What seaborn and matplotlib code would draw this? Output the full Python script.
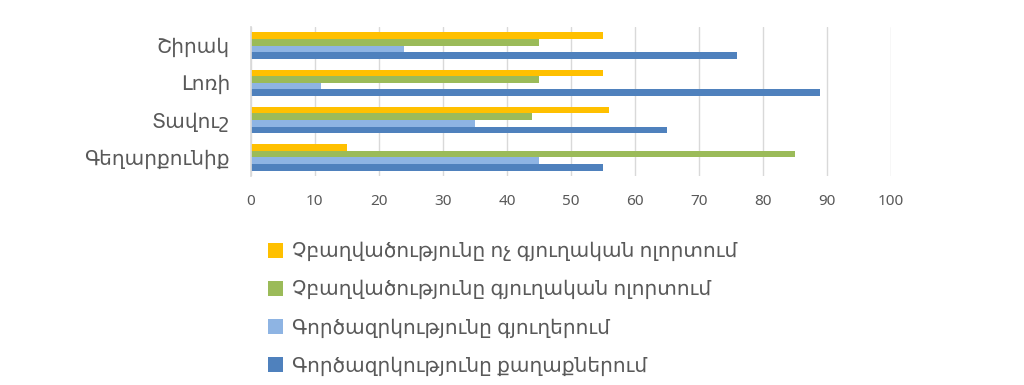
import numpy as np
import pandas as pd
import matplotlib
matplotlib.use("Agg")
import matplotlib.pyplot as plt
from matplotlib.patches import Patch
import seaborn as sns

# ------------------------------------------------------------------
# Data
# ------------------------------------------------------------------
regions = ["Շիրակ", "Լոռի", "Տավուշ", "Գեղարքունիք"]
series = [
    "Չբաղվածությունը ոչ գյուղական ոլորտում",
    "Չբաղվածությունը գյուղական ոլորտում",
    "Գործազրկությունը գյուղերում",
    "Գործազրկությունը քաղաքներում",
]
non_agri_emp = [55, 55, 56, 15]
agri_emp     = [45, 45, 44, 85]
unemp_rural  = [24, 11, 35, 45]
unemp_urban  = [76, 89, 65, 55]
colors = ["#FFC000", "#9BBB59", "#8EB4E3", "#4F81BD"]

values = [non_agri_emp, agri_emp, unemp_rural, unemp_urban]
df = pd.DataFrame(
    [(r, s, v[i]) for s, v in zip(series, values) for i, r in enumerate(regions)],
    columns=["region", "series", "value"],
)

# ------------------------------------------------------------------
# Plot
# ------------------------------------------------------------------
sns.set_theme(style="white")
plt.rcParams["font.family"] = ["Noto Sans", "DejaVu Sans"]

fig = plt.figure(figsize=(10.24, 3.85), dpi=100)
ax = fig.add_axes([0.245, 0.543, 0.625, 0.387])

sns.barplot(
    data=df, y="region", x="value", hue="series",
    order=regions, hue_order=series, palette=colors,
    orient="h", width=0.71, saturation=1, linewidth=0,
    legend=False, ax=ax,
)

ax.set_xlim(0, 100)
ax.set_xticks(np.arange(0, 101, 10))
ax.set_xlabel("")
ax.set_ylabel("")
ax.grid(axis="x", color="#D9D9D9", linewidth=1)
ax.set_axisbelow(True)
for side in ["top", "right", "bottom"]:
    ax.spines[side].set_visible(False)
ax.spines["left"].set_color("#D9D9D9")
ax.tick_params(axis="both", length=0, colors="#595959")
ax.tick_params(axis="x", labelsize=11, pad=13)
ax.tick_params(axis="y", labelsize=14.5, pad=15)

# legend below the axes, squares like the original
handles = [Patch(facecolor=c, edgecolor="none") for c in colors]
fig.legend(
    handles, series, loc="upper left", bbox_to_anchor=(0.244, 0.418),
    frameon=False, fontsize=14.5, labelcolor="#595959",
    handlelength=0.75, handleheight=0.75, handletextpad=0.45, labelspacing=0.9,
)

fig.savefig("out.png", dpi=100)
